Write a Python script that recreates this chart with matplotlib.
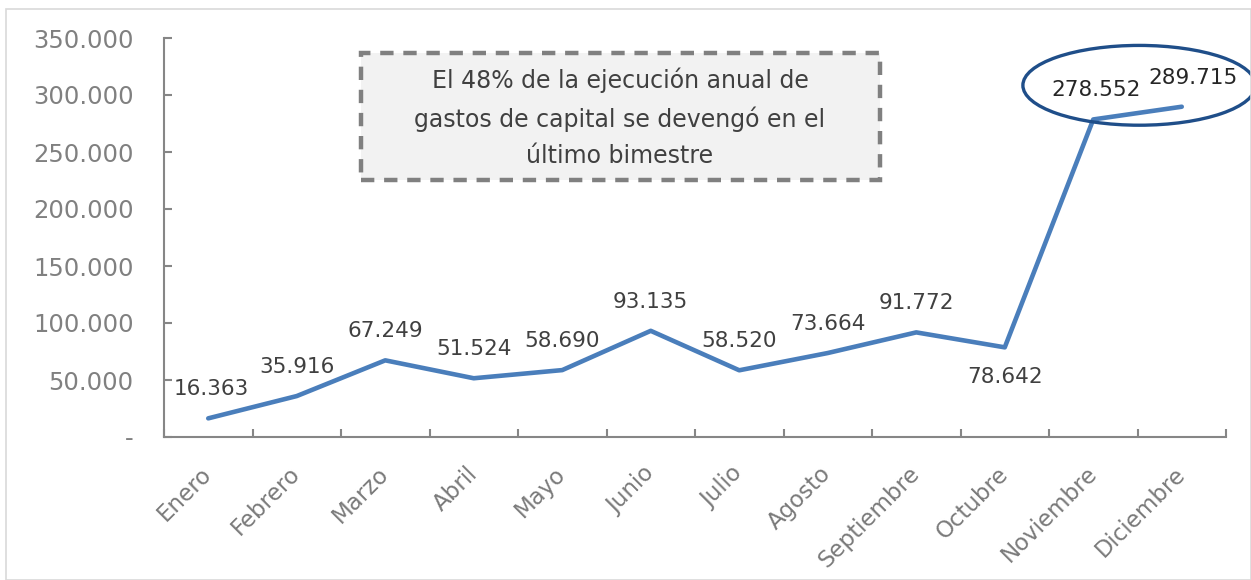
import matplotlib
matplotlib.use("Agg")
import matplotlib.pyplot as plt
from matplotlib.patches import Ellipse, FancyBboxPatch, Rectangle

plt.rcParams['font.family'] = ['DejaVu Sans']

months = ["Enero", "Febrero", "Marzo", "Abril", "Mayo", "Junio", "Julio",
          "Agosto", "Septiembre", "Octubre", "Noviembre", "Diciembre"]
values = [16363, 35916, 67249, 51524, 58690, 93135, 58520, 73664, 91772,
          78642, 278552, 289715]
labels = ["16.363", "35.916", "67.249", "51.524", "58.690", "93.135", "58.520",
          "73.664", "91.772", "78.642", "278.552", "289.715"]
yticks = [0, 50000, 100000, 150000, 200000, 250000, 300000, 350000]
ytick_labels = ["-", "50.000", "100.000", "150.000", "200.000", "250.000",
                "300.000", "350.000"]
note = "El 48% de la ejecución anual de\ngastos de capital se devengó en el\núltimo bimestre"

fig = plt.figure(figsize=(12.51, 5.8), dpi=100)
ax = fig.add_axes([164/1251, 1-437/580, (1226-164)/1251, (437-38)/580])

x = list(range(len(months)))
ax.plot(x, values, color="#4a7ebb", lw=3.3, solid_capstyle="round", zorder=3)

for i, (v, lab) in enumerate(zip(values, labels)):
    dy = 21
    dx = 0
    if i == 9:
        dy = -21
    if i == 0:
        dx = 2
    if i == 10:
        dx = 2
    if i == 11:
        dx = 8
    ax.annotate(lab, (i, v), xytext=(dx, dy), textcoords="offset points",
                ha="center", va="center", fontsize=15.5,
                color="#262626" if i >= 10 else "#404040", zorder=5)

ax.set_xlim(-0.5, 11.5)
ax.set_ylim(0, 350000)
ax.set_yticks(yticks)
ax.set_yticklabels(ytick_labels, color="#808080", fontsize=17.5)
ax.set_xticks(x)
ax.set_xticklabels(months, rotation=45, ha="right", va="center",
                   rotation_mode="anchor", color="#7a7a7a", fontsize=16.5)
ax.set_xticks([i + 0.5 for i in range(-1, 12)], minor=True)
ax.tick_params(axis="x", which="major", length=0, pad=24)
ax.tick_params(axis="x", which="minor", length=6, direction="in", color="#868686", width=1.5)
ax.tick_params(axis="y", length=6, direction="in", color="#868686", width=1.5, pad=22)

for s in ["top", "right"]:
    ax.spines[s].set_visible(False)
for s in ["left", "bottom"]:
    ax.spines[s].set_color("#868686")
    ax.spines[s].set_linewidth(1.5)

# note box
box = FancyBboxPatch((361/1251, 1-180/580), (880-361)/1251, (180-53)/580,
                     boxstyle="square,pad=0", transform=fig.transFigure,
                     facecolor="#f2f2f2", edgecolor="#808080", lw=3.2,
                     linestyle=(0, (3, 2.2)), zorder=4)
fig.patches.append(box)
fig.text(620/1251, 1-118/580, note, ha="center", va="center", fontsize=17,
         color="#404040", linespacing=1.65, zorder=6)

# ellipse highlight
ell = Ellipse((10.52, 308500), 2.63, 70000, facecolor="none",
              edgecolor="#1f4e89", lw=2.4, clip_on=False, zorder=6)
ax.add_patch(ell)

# figure border
fig.patches.append(Rectangle((6/1251, 0), 1 - 6/1251, 1 - 9/580,
                             transform=fig.transFigure, facecolor="none",
                             edgecolor="#d9d9d9", lw=1.2))

fig.savefig("out.png", dpi=100)
